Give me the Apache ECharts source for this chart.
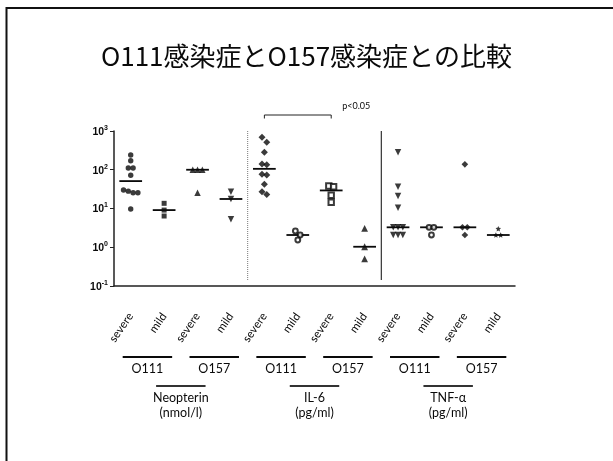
<!DOCTYPE html>
<html>
<head>
<meta charset="utf-8">
<script src="https://cdn.jsdelivr.net/npm/echarts@6/dist/echarts.min.js"></script>
<style>
  html, body { margin: 0; padding: 0; background: #fff; }
  #chart { width: 613px; height: 461px; }
</style>
</head>
<body>
<div id="chart"></div>
<script>
// Column labels along the x axis
const severityLabels = ['severe', 'mild', 'severe', 'mild', 'severe', 'mild', 'severe', 'mild', 'severe', 'mild', 'severe', 'mild'];
// Strain under each pair of columns
const strainLabels = ['O111', 'O157', 'O111', 'O157', 'O111', 'O157'];
// Marker name and unit under each block of four columns
const markerNames = ['Neopterin', 'IL-6', 'TNF-α'];
const markerUnits = ['(nmol/l)', '(pg/ml)', '(pg/ml)'];
// Y axis decades (log scale)
const yMin = 0.1;
const yMax = 1000;

// Individual patient values per column
const neopterinO111Severe = [240, 171, 111, 111, 72, 30, 28, 25.6, 25.6, 9.7];
const neopterinO111Mild = [13.6, 9.1, 6.4];
const neopterinO157Severe = [100, 100, 100, 25.6];
const neopterinO157Mild = [27, 17.6, 5.3];
const il6O111Severe = [687, 511, 282, 141, 135, 76, 73, 42, 27, 23];
const il6O111Mild = [2.63, 2.07, 1.54];
const il6O157Severe = [38, 36.5, 22, 14.5];
const il6O157Mild = [3.08, 1.03, 0.5];
const tnfO111Severe = [282, 36.5, 21, 10.5, 3.27, 3.27, 3.27, 2.07, 2.07, 2.07];
const tnfO111Mild = [3.27, 3.27, 2.07];
const tnfO157Severe = [138, 3.27, 3.27, 2.07];
const tnfO157Mild = [3.0, 2.07, 2.07];

// Significance bracket between two columns
const bracketFrom = 4;
const bracketTo = 6;
const bracketText = 'p<0.05';

const columns = [
  neopterinO111Severe, neopterinO111Mild, neopterinO157Severe, neopterinO157Mild,
  il6O111Severe, il6O111Mild, il6O157Severe, il6O157Mild,
  tnfO111Severe, tnfO111Mild, tnfO157Severe, tnfO157Mild
];

const INK = '#0a0a0a';
const STAR = 'path://M0,-10 L2.9,-4 L9.5,-3.1 L4.7,1.5 L5.9,8.1 L0,5 L-5.9,8.1 L-4.7,1.5 L-9.5,-3.1 L-2.9,-4 Z';
const symbolStyles = [
  { symbol: 'circle', size: 5.4 },
  { symbol: 'rect', size: 5 },
  { symbol: 'triangle', size: 6.4 },
  { symbol: 'triangle', size: 6.4, rotate: 180 },
  { symbol: 'diamond', size: 7 },
  { symbol: 'emptyCircle', size: 4.8 },
  { symbol: 'emptyRect', size: 5.4 },
  { symbol: 'triangle', size: 6.8 },
  { symbol: 'triangle', size: 6.4, rotate: 180 },
  { symbol: 'emptyCircle', size: 4.8 },
  { symbol: 'diamond', size: 6.6 },
  { symbol: STAR, size: 5.4 }
];

// Points whose values are this close (in decades) sit side by side
const SWARM_GAP = 0.138;
const SWARM_STEP = 4.8;

function swarmOffsets(values) {
  const order = values.map((v, i) => i).sort((a, b) => values[b] - values[a]);
  const offsets = new Array(values.length).fill(0);
  let cluster = [];
  const flush = () => {
    cluster.forEach((k, j) => { offsets[k] = (j - (cluster.length - 1) / 2) * SWARM_STEP; });
    cluster = [];
  };
  order.forEach(k => {
    if (cluster.length && Math.log10(values[cluster[0]]) - Math.log10(values[k]) > SWARM_GAP) flush();
    cluster.push(k);
  });
  flush();
  return offsets;
}

function median(values) {
  const s = values.slice().sort((a, b) => a - b);
  const n = s.length;
  return n % 2 ? s[(n - 1) / 2] : (s[n / 2 - 1] + s[n / 2]) / 2;
}

const pointSeries = columns.map((values, col) => {
  const offs = swarmOffsets(values);
  const st = symbolStyles[col];
  return {
    type: 'scatter',
    symbol: st.symbol,
    symbolSize: st.size,
    symbolRotate: st.rotate || 0,
    itemStyle: { color: INK, borderColor: INK, borderWidth: st.symbol.indexOf('empty') === 0 ? 1.8 : 0 },
    z: 5,
    data: values.map((v, i) => ({ value: [col, v], symbolOffset: [offs[i], 0] }))
  };
});

const medianSeries = {
  type: 'custom',
  z: 4,
  clip: false,
  data: columns.map((values, col) => [col, median(values)]),
  renderItem: (params, api) => {
    const p = api.coord([api.value(0), api.value(1)]);
    const band = api.size([1, 0], [api.value(0), 1])[0];
    const half = band * 0.34;
    return {
      type: 'line',
      shape: { x1: p[0] - half, y1: p[1], x2: p[0] + half, y2: p[1] },
      style: { stroke: INK, lineWidth: 1.8 }
    };
  }
};

// Column-block separators and the labelled grouping rules under the axis
const separatorSeries = {
  type: 'custom',
  z: 3,
  clip: false,
  data: [[3, 1], [7, 1]],
  renderItem: (params, api) => {
    const col = api.value(0);
    const band = api.size([1, 0], [col, 1])[0];
    const x = api.coord([col, 1])[0] + band / 2;
    const top = api.coord([col, yMax])[1];
    const bottom = api.coord([col, yMin])[1] - 6;
    const dotted = params.dataIndex === 0;
    return {
      type: 'line',
      shape: { x1: x, y1: top, x2: x, y2: bottom },
      style: dotted ? { stroke: '#777', lineWidth: 1, lineDash: [1, 1] } : { stroke: '#333', lineWidth: 1.2 }
    };
  }
};

const labelFont = 'Lato, "Liberation Sans", sans-serif';

const strainSeries = {
  type: 'custom',
  clip: false,
  silent: true,
  data: strainLabels.map((s, i) => [i * 2, 1]),
  renderItem: (params, api) => {
    const col = api.value(0);
    const band = api.size([1, 0], [col, 1])[0];
    const cx = (api.coord([col, 1])[0] + api.coord([col + 1, 1])[0]) / 2;
    const axisY = api.coord([col, yMin])[1];
    const half = band * 0.74;
    return {
      type: 'group',
      children: [
        { type: 'line', shape: { x1: cx - half, y1: axisY + 71, x2: cx + half, y2: axisY + 71 }, style: { stroke: INK, lineWidth: 2 } },
        { type: 'text', style: { text: strainLabels[params.dataIndex], x: cx, y: axisY + 83, align: 'center', verticalAlign: 'middle', fontSize: 12.5, fontFamily: labelFont, fill: INK } }
      ]
    };
  }
};

const markerSeries = {
  type: 'custom',
  clip: false,
  silent: true,
  data: markerNames.map((m, i) => [i * 4, 1]),
  renderItem: (params, api) => {
    const col = api.value(0);
    const band = api.size([1, 0], [col, 1])[0];
    const cx = (api.coord([col, 1])[0] + api.coord([col + 3, 1])[0]) / 2;
    const axisY = api.coord([col, yMin])[1];
    const half = band * 0.74;
    return {
      type: 'group',
      children: [
        { type: 'line', shape: { x1: cx - half, y1: axisY + 100, x2: cx + half, y2: axisY + 100 }, style: { stroke: '#333', lineWidth: 2 } },
        { type: 'text', style: { text: markerNames[params.dataIndex], x: cx, y: axisY + 112, align: 'center', verticalAlign: 'middle', fontSize: 12.5, fontFamily: labelFont, fill: INK } },
        { type: 'text', style: { text: markerUnits[params.dataIndex], x: cx, y: axisY + 127, align: 'center', verticalAlign: 'middle', fontSize: 12.5, fontFamily: labelFont, fill: INK } }
      ]
    };
  }
};

const bracketSeries = {
  type: 'custom',
  clip: false,
  silent: true,
  data: [[bracketFrom, 1]],
  renderItem: (params, api) => {
    const x1 = api.coord([bracketFrom, yMax])[0];
    const x2 = api.coord([bracketTo, yMax])[0];
    const top = api.coord([bracketFrom, yMax])[1];
    const y = top - 16;
    return {
      type: 'group',
      children: [
        { type: 'polyline', shape: { points: [[x1, y + 3.5], [x1, y], [x2, y], [x2, y + 3.5]] }, style: { stroke: '#222', lineWidth: 1, fill: null } },
        { type: 'text', style: { text: bracketText, x: x2 + 11, y: y - 9, align: 'left', verticalAlign: 'middle', fontSize: 9, fontFamily: labelFont, fill: INK } }
      ]
    };
  }
};

const chart = echarts.init(document.getElementById('chart'), null, { renderer: 'canvas' });
chart.setOption({
  backgroundColor: '#fff',
  animation: false,
  title: {
    text: 'O111感染症とO157感染症との比較',
    left: 'center',
    top: 38,
    textStyle: { fontFamily: '"Noto Sans CJK JP", sans-serif', fontSize: 26, fontWeight: 'normal', color: INK }
  },
  graphic: [
    { type: 'rect', shape: { x: 6.5, y: 8, width: 700, height: 600 }, style: { stroke: '#111', lineWidth: 2, fill: null }, silent: true }
  ],
  grid: { left: 114, right: 98, top: 131, bottom: 175 },
  xAxis: {
    type: 'category',
    data: severityLabels,
    axisLine: { lineStyle: { color: '#222', width: 1.5 } },
    axisTick: { alignWithLabel: true, length: 4, lineStyle: { color: '#222', width: 1 } },
    axisLabel: { rotate: 55, margin: 28, fontSize: 11.5, fontFamily: labelFont, color: INK, interval: 0 },
    splitLine: { show: false }
  },
  yAxis: {
    type: 'log',
    logBase: 10,
    min: yMin,
    max: yMax,
    axisLine: { show: true, lineStyle: { color: '#222', width: 1.5 } },
    axisTick: { show: true, length: 4, lineStyle: { color: '#222', width: 1 } },
    splitLine: { show: false },
    axisLabel: {
      margin: 6,
      color: INK,
      formatter: v => '{b|10}{s|' + Math.round(Math.log10(v)) + '}',
      rich: {
        b: { fontSize: 10.5, fontWeight: 'bold', fontFamily: '"Liberation Sans Narrow", "Liberation Sans", sans-serif', color: INK, lineHeight: 13, verticalAlign: 'bottom' },
        s: { fontSize: 7, fontWeight: 'bold', fontFamily: '"Liberation Sans Narrow", "Liberation Sans", sans-serif', color: INK, lineHeight: 13, verticalAlign: 'top' }
      }
    }
  },
  series: [separatorSeries, medianSeries, strainSeries, markerSeries, bracketSeries].concat(pointSeries)
});
</script>
</body>
</html>
